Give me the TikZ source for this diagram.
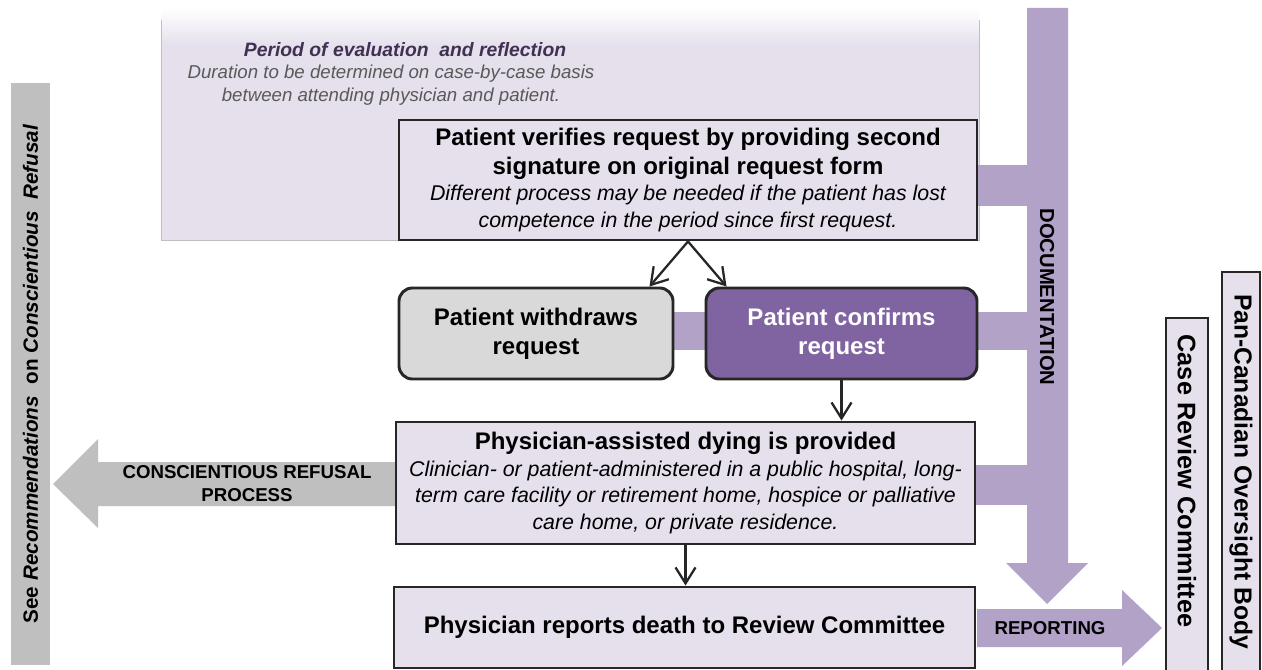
\documentclass[tikz,border=0pt]{standalone}
\usepackage{fontspec}
\setmainfont{Liberation Sans}
\usetikzlibrary{arrows.meta,calc}
\definecolor{lav}{RGB}{229,224,236}
\definecolor{docp}{RGB}{179,162,199}
\definecolor{conf}{RGB}{128,100,162}
\definecolor{wgray}{RGB}{217,217,217}
\definecolor{bgray}{RGB}{191,191,191}
\definecolor{ptitle}{RGB}{64,49,82}
\definecolor{pgray}{RGB}{89,89,89}
\definecolor{edge}{RGB}{38,38,38}
\newcommand\boxtitle[1]{{\fontsize{18}{21.75}\selectfont\bfseries #1}}
\newcommand\boxnote[1]{{\itshape #1}}
\begin{document}
\begin{tikzpicture}[x=0.75pt,y=-0.75pt]
\tikzset{
  sz/.style 2 args={minimum width=#1*0.75pt, minimum height=#2*0.75pt},
  flowbox/.style={draw=edge, line width=2.2pt, fill=lav, inner sep=0pt, align=center, font=\fontsize{16}{20}\selectfont},
  roundbox/.style={flowbox, rounded corners=10pt, font=\fontsize{18}{21.75}\selectfont\bfseries},
  flow/.style={draw=edge, line width=1.7pt, -{Straight Barb[length=12pt,width=15pt]}},
  band/.style={fill=docp, draw=none},
  greyarrow/.style={fill=bgray, draw=none},
  bandlabel/.style={font=\fontsize{14}{17.25}\selectfont\bfseries, align=center, inner sep=0pt},
  sidebox/.style={draw=edge, line width=2.2pt, fill=lav, inner sep=0pt},
  sidetext/.style={font=\fontsize{19}{22}\selectfont\bfseries, rotate=-90, inner sep=0pt},
}
\path[use as bounding box] (0,0) rectangle (1262,670);
\fill[white] (0,0) rectangle (1262,670);
\begin{scope}
\clip (0,0) rectangle (1262,670);
% evaluation region
\shade[top color=white, bottom color=lav] (161,8) rectangle (979,45.5);
\fill[lav] (161,45) rectangle (979,240);
\draw[bgray, line width=0.6pt] (161,20) -- (161,240) -- (979,240) -- (979,20);
\node[font=\fontsize{14.5}{17}\selectfont\bfseries\itshape, text=ptitle, inner sep=0pt] (pt) at (405,50) {Period of evaluation\ \ and reflection};
\node[font=\fontsize{14}{17.25}\selectfont\itshape, text=pgray, align=center, inner sep=0pt] (pd) at (391,85.5) {Duration to be determined on case-by-case basis\\between attending physician and patient.};
% documentation bands
\fill[band] (977,165) rectangle (1030,206);
\fill[band] (673,312) rectangle (1030,350);
\fill[band] (975,465) rectangle (1030,505);
\fill[band] (1027,8) -- (1068,8) -- (1068,563) -- (1088,563) -- (1047,604) -- (1006,563) -- (1027,563) -- cycle;
\node[bandlabel, rotate=-90, font=\fontsize{15.2}{17}\selectfont\bfseries] (doc) at (1047,297) {DOCUMENTATION};
% reporting arrow
\fill[band] (977,609) -- (1122,609) -- (1122,590) -- (1162,628) -- (1122,666) -- (1122,647) -- (977,647) -- cycle;
\node[bandlabel] (rep) at (1050,628) {REPORTING};
% conscientious refusal arrow
\fill[greyarrow] (396,462) -- (98,462) -- (98,439) -- (53,484) -- (98,528) -- (98,506) -- (396,506) -- cycle;
\node[bandlabel] (cr) at (247,484) {CONSCIENTIOUS REFUSAL\\PROCESS};
% left bar
\node[fill=bgray, rotate=90, sz={582}{39}, inner sep=0pt, font=\fontsize{15.5}{18}\selectfont\bfseries] (see) at (30.5,374) {See \textit{Recommendations}\ \ on \textit{Conscientious}\ \ \textit{Refusal}};
% side boxes
\node[sidebox, sz={42}{380}] (crc) at (1187,508) {};
\node[sidetext] (crct) at (1187,481) {Case Review Committee};
\node[sidebox, sz={38}{430}] (pcb) at (1241,487) {};
\node[sidetext, font=\fontsize{18.5}{22}\selectfont\bfseries] (pcbt) at (1241,471.5) {Pan-Canadian Oversight Body};
% main boxes
\node[flowbox, sz={578}{120}] (v) at (688,180) {\boxtitle{Patient verifies request by providing second}\\[1.75pt]\boxtitle{signature on original request form}\\\boxnote{Different process may be needed if the patient has lost}\\\boxnote{competence in the period since first request.}};
\node[roundbox, fill=wgray, sz={274}{91}] (w) at (536,333.5) {Patient withdraws\\request};
\node[roundbox, fill=conf, text=white, sz={271}{91}] (c) at (841.5,333.5) {Patient confirms\\request};
\node[flowbox, sz={579}{122}] (p) at (685.5,483) {\boxtitle{Physician-assisted dying is provided}\\\boxnote{Clinician- or patient-administered in a public hospital, long-}\\\boxnote{term care facility or retirement home, hospice or palliative}\\\boxnote{care home, or private residence.}};
\node[flowbox, sz={581}{81}] (r) at (684.5,627.5) {\boxtitle{Physician reports death to Review Committee}};
% flows
\draw[flow] (v.south) -- ($(w.north east)+(-25,0)$);
\draw[flow] (v.south) -- ($(c.north west)+(22,0)$);
\draw[flow] (c.south) -- (c.south |- p.north);
\draw[flow] (p.south) -- (p.south |- r.north);
\end{scope}
\end{tikzpicture}
\end{document}
